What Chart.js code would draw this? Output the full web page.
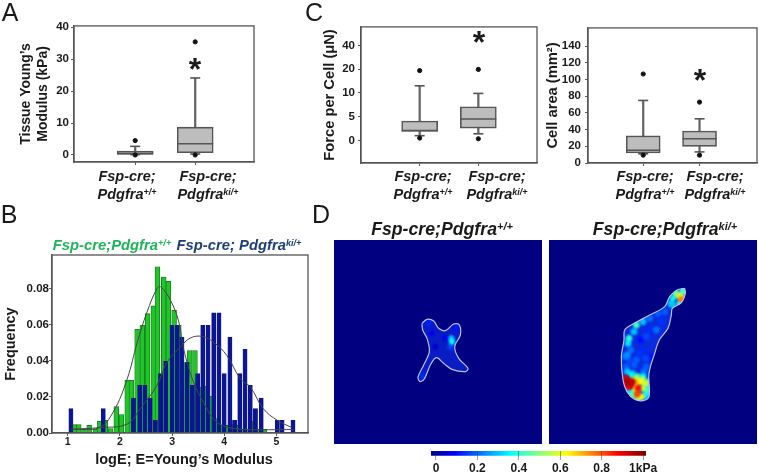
<!DOCTYPE html>
<html>
<head>
<meta charset="utf-8">
<title>Fsp-cre; Pdgfra</title>
<script src="https://cdn.jsdelivr.net/npm/chart.js@4/dist/chart.umd.min.js"></script>
<style>
  html, body { margin: 0; background: #fff; }
  #page { position: relative; width: 759px; height: 472px; overflow: hidden; font-family: "Liberation Sans", Arial, sans-serif; color: #1a1a1a; }
  canvas { position: absolute; }
  .note { position: absolute; transform: translate(-50%, -50%); white-space: nowrap; line-height: 1; }
  sup { font-size: .62em; position: relative; top: -.42em; vertical-align: baseline; line-height: 0; }
</style>
</head>
<body>
<div id="page"></div>
<script>
// panel A, tissue modulus (kPa)
const groupPos = [1, 2]
const tissueLow = [0.1, 0.3]
const tissueQ1 = [0.2, 0.7]
const tissueMed = [0.5, 3.5]
const tissueQ3 = [1.2, 8.7]
const tissueHigh = [2.7, 24.1]
const tissueOutX = [1, 1, 2, 2]
const tissueOutY = [4.5, 0, 35.4, 0]
const tissueTicks = [0, 10, 20, 30, 40]

// panel C, force per cell (uN), the axis is spaced by tick not by value
const forceLow = [1.0, 1.4]
const forceQ1 = [1.9, 2.6]
const forceMed = [2.1, 4.5]
const forceQ3 = [4.1, 7.1]
const forceHigh = [13, 9.9]
const forceOutX = [1, 1, 2, 2]
const forceOutY = [19.4, 0.5, 19.9, 0.35]
const forceTicks = [0, 5, 10, 20, 40]

// panel C, cell area
const areaLow = [11, 13.3]
const areaQ1 = [12, 20]
const areaMed = [15.3, 29]
const areaQ3 = [32.5, 38.4]
const areaHigh = [75, 53]
const areaOutX = [1, 1, 2, 2]
const areaOutY = [106.7, 9.4, 73, 9.4]
const areaTicks = [0, 20, 40, 60, 80, 100, 120, 140]

// panel B, histograms
const greenX = [1.12, 1.21, 1.31, 1.41, 1.53, 1.61, 1.72, 1.82, 1.93, 2.03, 2.14, 2.22, 2.33, 2.43, 2.53, 2.64, 2.72, 2.84, 2.93, 3.04, 3.13, 3.24, 3.34, 3.44, 3.54, 3.65, 3.74, 3.85, 3.95, 4.04, 4.15, 4.25, 4.35, 4.45, 4.55, 4.65, 4.77]
const greenY = [0.0046, 0.0046, 0.0024, 0.0042, 0.002, 0.0065, 0.007, 0.0024, 0.0146, 0.0102, 0.0292, 0.0292, 0.0574, 0.0597, 0.0661, 0.0704, 0.0921, 0.0864, 0.084, 0.068, 0.0597, 0.039, 0.0456, 0.0456, 0.0255, 0.026, 0.0205, 0.008, 0.0042, 0.0042, 0.0046, 0.0042, 0.002, 0.002, 0.0065, 0.002, 0.002]
const blueX = [1.06, 1.68, 2.26, 2.38, 2.48, 2.58, 2.68, 2.78, 2.88, 3.0, 3.1, 3.19, 3.29, 3.39, 3.49, 3.59, 3.69, 3.8, 3.9, 4.0, 4.11, 4.2, 4.3, 4.4, 4.5, 4.6, 4.71, 5.02, 5.11, 5.32]
const blueY = [0.0135, 0.0135, 0.0194, 0.0264, 0.0264, 0.0194, 0.007, 0.0329, 0.0397, 0.0597, 0.0597, 0.0532, 0.0393, 0.0264, 0.0329, 0.0597, 0.0597, 0.0665, 0.0665, 0.0329, 0.0532, 0.007, 0.0329, 0.0464, 0.0264, 0.0135, 0.0194, 0.007, 0.007, 0.007]
const greenCurveX = [1.07, 1.6, 1.87, 2.14, 2.33, 2.52, 2.71, 2.78, 2.97, 3.13, 3.22, 3.41, 3.6, 3.79, 3.98, 4.37, 5.33]
const greenCurveY = [0.002, 0.003, 0.0116, 0.03, 0.05, 0.067, 0.08, 0.081, 0.0735, 0.0615, 0.0467, 0.0283, 0.017, 0.008, 0.004, 0.002, 0.002]
const blueCurveX = [1.07, 1.62, 2.14, 2.39, 2.71, 2.9, 3.16, 3.35, 3.58, 3.79, 4.05, 4.31, 4.5, 4.75, 5.02, 5.3]
const blueCurveY = [0.002, 0.003, 0.005, 0.0135, 0.0264, 0.039, 0.0476, 0.0526, 0.0535, 0.0504, 0.043, 0.03, 0.0255, 0.0135, 0.007, 0.003]
const histXTicks = [1, 2, 3, 4, 5]
const histYTicks = [0, 0.02, 0.04, 0.06, 0.08]

// panel D, traction maps in image units
const ctrlCellX = [264, 279, 299, 314, 334, 359, 376, 379, 362, 374, 402, 394, 354, 329, 307, 289, 272, 259, 252, 269, 286, 279, 266, 264]
const ctrlCellY = [250, 238, 243, 265, 272, 252, 255, 285, 320, 355, 385, 395, 388, 370, 353, 375, 415, 425, 412, 375, 335, 295, 270, 250]
const ctrlSpotX = [304, 334, 294, 364, 284, 266, 349, 352, 354]
const ctrlSpotY = [320, 295, 280, 265, 250, 408, 320, 295, 305]
const ctrlSpotV = [0.06, 0.09, 0.1, 0.13, 0.14, 0.15, 0.18, 0.3, 0.36]
const mutCellX = [407, 409, 397, 370, 367, 357, 332, 317, 300, 300, 282, 257, 234, 222, 217, 225, 227, 252, 302, 347, 362, 384, 407]
const mutCellY = [145, 160, 188, 205, 225, 265, 298, 340, 400, 470, 482, 478, 455, 420, 350, 300, 270, 252, 225, 200, 170, 150, 145]
const mutSpotX = [384, 307, 282, 292, 327, 347, 302, 322, 262, 232, 292, 282, 227, 252, 372, 237, 240, 262, 247, 282, 242, 292, 297, 402, 372, 392, 387, 252, 257, 267, 282, 277, 287, 257, 272, 265, 397, 267, 225, 245, 228, 237, 232, 250, 240, 260, 300, 280, 265, 225, 240, 296, 292, 262, 250, 380, 395, 405, 365, 255, 245, 235, 275, 300, 335, 270, 240, 290, 255, 285, 300, 235]
const mutSpotY = [180, 350, 330, 290, 220, 215, 235, 270, 360, 380, 380, 245, 350, 400, 195, 310, 295, 255, 405, 410, 455, 460, 435, 155, 175, 190, 165, 465, 440, 475, 445, 470, 430, 420, 425, 462, 178, 445, 435, 435, 420, 427, 415, 425, 440, 430, 425, 420, 410, 450, 470, 450, 470, 450, 452, 160, 170, 150, 190, 275, 330, 345, 300, 270, 245, 340, 360, 355, 375, 395, 385, 395]
const mutSpotV = [0.08, 0.13, 0.15, 0.18, 0.2, 0.2, 0.22, 0.22, 0.2, 0.2, 0.2, 0.3, 0.22, 0.25, 0.3, 0.33, 0.4, 0.42, 0.35, 0.35, 0.35, 0.35, 0.4, 0.42, 0.35, 0.4, 0.5, 0.45, 0.5, 0.55, 0.55, 0.6, 0.58, 0.6, 0.62, 0.8, 0.75, 0.85, 0.85, 0.9, 0.92, 0.95, 0.9, 0.92, 0.88, 0.7, 0.45, 0.55, 0.45, 0.3, 0.25, 0.4, 0.3, 0.6, 0.35, 0.45, 0.6, 0.4, 0.3, 0.3, 0.22, 0.25, 0.12, 0.15, 0.16, 0.16, 0.18, 0.18, 0.2, 0.22, 0.15, 0.3]

// colour bar
const barTicks = [0, 0.2, 0.4, 0.6, 0.8, 1]
const barLabels = ['0', '0.2', '0.4', '0.6', '0.8', '1kPa']

const FONT = '"Liberation Sans", Arial, sans-serif'
const AXIS = '#555'
Chart.defaults.font.family = FONT
Chart.defaults.color = '#1a1a1a'
Chart.defaults.animation = false
Chart.defaults.responsive = false
Chart.defaults.devicePixelRatio = 1
Chart.defaults.layout.autoPadding = false
Chart.defaults.plugins.legend.display = false
Chart.defaults.plugins.tooltip.enabled = false

const page = document.getElementById('page')

function note(html, x, y, css) {
  const d = document.createElement('div')
  d.className = 'note'
  d.innerHTML = html
  d.style.left = x + 'px'
  d.style.top = y + 'px'
  d.style.cssText += css
  page.appendChild(d)
}

// canvas sized so the chart area lands on box [l, t, r, b]
function place(l, t, r, b, padL, padB, pad) {
  const c = document.createElement('canvas')
  c.width = padL + (r - l) + pad
  c.height = pad + (b - t) + padB
  c.style.left = (l - padL) + 'px'
  c.style.top = (t - pad) + 'px'
  page.appendChild(c)
  return c
}

const framePlugin = {
  id: 'frame',
  afterDatasetsDraw(chart) {
    const { ctx, chartArea: a } = chart
    ctx.save()
    ctx.strokeStyle = AXIS
    ctx.lineWidth = 1.3
    ctx.strokeRect(a.left, a.top, a.right - a.left, a.bottom - a.top)
    ctx.restore()
  }
}

function tickAxis(values, extra) {
  return Object.assign({
    type: 'linear',
    offset: false,
    afterBuildTicks: s => { s.ticks = values.map(v => ({ value: v })) },
    grid: { drawOnChartArea: false, offset: false, tickLength: 3, tickColor: AXIS, color: AXIS },
    border: { color: AXIS, width: 1.3 }
  }, extra)
}

function zip(xs, ys) {
  return xs.map((x, i) => ({ x: x, y: ys[i] }))
}

function boxChart(box, padL, s) {
  const canvas = place(box[0], box[1], box[2], box[3], padL, 12, 8)
  const map = s.map || (v => v)
  const pts = vals => vals.map((v, i) => ({ x: groupPos[i], y: map(v) }))
  const marks = (data, radius) => ({
    type: 'line', showLine: false, data: data, pointStyle: 'line', pointRadius: radius,
    pointBorderColor: '#555', pointBorderWidth: 1.6
  })
  new Chart(canvas, {
    type: 'bar',
    data: {
      datasets: [
        { type: 'line', showLine: false, data: s.outX.map((x, i) => ({ x: x, y: map(s.outY[i]) })), pointRadius: 2.1, pointBackgroundColor: '#111', pointBorderColor: '#111' },
        marks(pts(s.med), s.width / 2),
        { grouped: false, data: groupPos.map((x, i) => ({ x: x, y: [map(s.q1[i]), map(s.q3[i])] })), barThickness: s.width, backgroundColor: '#bdbdbd', borderColor: '#555', borderWidth: 1.6, borderSkipped: false },
        marks(pts(s.high), 5),
        marks(pts(s.low), 5),
        { grouped: false, data: groupPos.map((x, i) => ({ x: x, y: [map(s.low[i]), map(s.high[i])] })), barThickness: 1.6, backgroundColor: '#666' }
      ]
    },
    options: {
      layout: { padding: { top: 8, right: 8 } },
      scales: {
        x: tickAxis(groupPos, { min: s.xMin, max: s.xMin + 3, ticks: { display: false }, afterFit: a => { a.height = 12 } }),
        y: tickAxis(s.ticks.map(map), {
          min: s.yMin, max: s.yMax,
          ticks: { padding: s.tickGap, font: { size: 11.5, weight: 'bold' }, autoSkip: false, callback: s.label || (v => v) },
          title: { display: true, text: s.title, padding: 0, font: { size: s.titleSize, weight: 'bold', lineHeight: 17 / s.titleSize } },
          afterFit: a => { a.width = padL }
        })
      }
    },
    plugins: [framePlugin]
  })
}

boxChart([74, 25, 254, 162], 56, {
  low: tissueLow, q1: tissueQ1, med: tissueMed, q3: tissueQ3, high: tissueHigh, outX: tissueOutX, outY: tissueOutY,
  ticks: tissueTicks, xMin: -0.02, yMin: -2.2, yMax: 40.4, width: 36, tickGap: 2, titleSize: 14,
  title: ['Tissue Young\u2019s', 'Modulus (kPa)']
})

// piecewise position of a force value between its evenly spaced ticks
function forcePos(v) {
  for (let i = 1; i < forceTicks.length; i++) {
    if (v <= forceTicks[i]) return i - 1 + (v - forceTicks[i - 1]) / (forceTicks[i] - forceTicks[i - 1])
  }
  return forceTicks.length - 1
}

boxChart([361, 25, 537, 163], 40, {
  low: forceLow, q1: forceQ1, med: forceMed, q3: forceQ3, high: forceHigh, outX: forceOutX, outY: forceOutY,
  ticks: forceTicks, map: forcePos, label: v => forceTicks[v], xMin: 0, yMin: -0.95, yMax: 4.78, width: 36, tickGap: 3, titleSize: 14.7,
  title: 'Force per Cell (\u03bcN)'
})

boxChart([588, 25, 757, 163], 44, {
  low: areaLow, q1: areaQ1, med: areaMed, q3: areaQ3, high: areaHigh, outX: areaOutX, outY: areaOutY,
  ticks: areaTicks, xMin: 0.02, yMin: 0, yMax: 162, width: 34, tickGap: 4, titleSize: 14.7,
  title: 'Cell area (mm\u00b2)'
})

// panel B
const histCanvas = place(52, 255, 308, 433, 50, 35, 8)
new Chart(histCanvas, {
  type: 'bar',
  data: {
    datasets: [
      { type: 'line', data: zip(greenCurveX, greenCurveY), borderColor: '#444', borderWidth: 1, pointRadius: 0, tension: 0.4 },
      { type: 'line', data: zip(blueCurveX, blueCurveY), borderColor: '#444', borderWidth: 1, pointRadius: 0, tension: 0.4 },
      { grouped: false, data: zip(blueX, blueY), barThickness: 4.2, backgroundColor: '#0a1496', borderColor: '#101a70', borderWidth: 0.6 },
      { grouped: false, data: zip(greenX, greenY), barThickness: 4.8, backgroundColor: '#22c42a', borderColor: '#0f7a1a', borderWidth: 0.8 }
    ]
  },
  options: {
    layout: { padding: { top: 8, right: 8 } },
    scales: {
      x: tickAxis(histXTicks, {
        min: 0.697, max: 5.608,
        ticks: { padding: 0, font: { size: 10.5, weight: 'bold' }, autoSkip: false, maxRotation: 0 },
        title: { display: true, text: '\u00a0\u00a0logE; E=Young\u2019s Modulus', padding: 0, font: { size: 14.5, weight: 'bold', lineHeight: 17 / 14.5 } },
        afterFit: a => { a.height = 35 }
      }),
      y: tickAxis(histYTicks, {
        min: 0, max: 0.0986,
        ticks: { padding: 0, font: { size: 11.5, weight: 'bold' }, autoSkip: false, callback: v => v.toFixed(2) },
        title: { display: true, text: 'Frequency', padding: 0, font: { size: 14.5, weight: 'bold', lineHeight: 17 / 14.5 } },
        afterFit: a => { a.width = 50 }
      })
    }
  },
  plugins: [framePlugin]
})

// jet style colour for a value in kPa
function jet(v) {
  const stops = [[0, 0, 0, 143], [0.11, 0, 0, 255], [0.36, 0, 255, 255], [0.63, 255, 255, 0], [0.86, 255, 0, 0], [1, 128, 0, 0]]
  for (let i = 1; i < stops.length; i++) {
    if (v <= stops[i][0]) {
      const a = stops[i - 1], b = stops[i], t = (v - a[0]) / (b[0] - a[0])
      return 'rgb(' + [1, 2, 3].map(k => Math.round(a[k] + (b[k] - a[k]) * t)).join(',') + ')'
    }
  }
  return 'rgb(128,0,0)'
}

// background, filled cell and clipped soft spots
const cellPlugin = {
  id: 'cell',
  beforeDraw(chart) {
    const { ctx, chartArea: a } = chart
    ctx.fillStyle = '#000080'
    ctx.fillRect(a.left, a.top, a.right - a.left, a.bottom - a.top)
  },
  beforeDatasetDraw(chart, args) {
    if (args.index !== 1) return
    const ctx = chart.ctx
    ctx.save()
    ctx.beginPath()
    chart.getDatasetMeta(0).dataset.path(ctx)
    ctx.closePath()
    ctx.fillStyle = chart.options.plugins.cell.base
    ctx.fill()
    ctx.clip()
    ctx.filter = 'blur(1.3px)'
  },
  afterDatasetDraw(chart, args) {
    if (args.index === 1) chart.ctx.restore()
  }
}

function mapChart(l, cellX, cellY, spotX, spotY, spotV, base, radius) {
  const canvas = place(l, 240, l + 208, 444, 0, 0, 0)
  const order = spotV.map((v, i) => i).sort((a, b) => spotV[a] - spotV[b])
  new Chart(canvas, {
    type: 'scatter',
    data: {
      datasets: [
        { data: zip(cellX, cellY), showLine: true, tension: 0.35, pointRadius: 0, borderColor: '#b9c2ee', borderWidth: 1.2 },
        { data: order.map(i => ({ x: spotX[i], y: spotY[i], v: spotV[i] })), pointRadius: radius, pointBorderWidth: 0, pointBackgroundColor: c => jet(c.raw ? c.raw.v : 0) }
      ]
    },
    options: {
      layout: { padding: 0 },
      plugins: { cell: { base: base } },
      scales: {
        x: { type: 'linear', display: false, min: 0, max: 624 },
        y: { type: 'linear', display: false, min: 0, max: 612, reverse: true }
      }
    },
    plugins: [cellPlugin]
  })
}

mapChart(334, ctrlCellX, ctrlCellY, ctrlSpotX, ctrlSpotY, ctrlSpotV, '#0a1cc4', 3)
mapChart(549, mutCellX, mutCellY, mutSpotX, mutSpotY, mutSpotV, '#0a2cdc', 3.4)

// colour bar, the canvas is wider than the bar so the last label has room
const barCanvas = place(431, 451, 646, 460, 20, 13, 20)
const barMin = -0.024
const barMax = 1.014
new Chart(barCanvas, {
  type: 'bar',
  data: {
    labels: [''],
    datasets: [{
      data: [[barMin, barMax]],
      barPercentage: 1,
      categoryPercentage: 1,
      backgroundColor: c => {
        const a = c.chart.chartArea
        if (!a) return '#000080'
        const g = c.chart.ctx.createLinearGradient(a.left, 0, a.right, 0)
        g.addColorStop(0, '#00008f')
        g.addColorStop(0.11, '#0000ff')
        g.addColorStop(0.37, '#00ffff')
        g.addColorStop(0.63, '#ffff00')
        g.addColorStop(0.87, '#ff0000')
        g.addColorStop(1, '#800000')
        return g
      }
    }]
  },
  options: {
    indexAxis: 'y',
    layout: { padding: { top: 20, left: 20, right: 20 } },
    scales: {
      x: {
        type: 'linear', min: barMin, max: barMax, offset: false,
        afterBuildTicks: s => { s.ticks = barTicks.map(v => ({ value: v })) },
        grid: { z: 1, offset: false, color: 'rgba(50,40,40,0.45)', tickLength: 0 },
        border: { display: false },
        ticks: { padding: 1, font: { size: 12, weight: 'bold' }, autoSkip: false, maxRotation: 0, callback: v => barLabels[barTicks.indexOf(v)] },
        afterFit: a => { a.height = 13 }
      },
      y: { display: false, offset: false }
    }
  }
})

// text that needs superscripts, or sits on the figure rather than on an axis
const ctrlHtml = 'Pdgfra<sup>+/+</sup>'
const mutHtml = 'Pdgfra<sup>ki/+</sup>'
const labelCss = 'font-size:14.5px;font-weight:bold;font-style:italic;'
;[[127, 208], [423, 497], [645, 715]].forEach(p => {
  note('Fsp-cre;', p[0], 176, labelCss)
  note(ctrlHtml, p[0], 194, labelCss)
  note('Fsp-cre;', p[1], 176, labelCss)
  note(mutHtml, p[1], 194, labelCss)
})
const starCss = 'font-size:32px;font-weight:bold;'
note('*', 195, 69, starCss)
note('*', 479, 42, starCss)
note('*', 700, 80, starCss)
note('A', 10, 12, 'font-size:25px;')
note('B', 9, 214, 'font-size:25px;')
note('C', 314, 12, 'font-size:25px;')
note('D', 321, 214, 'font-size:25px;')
note('Fsp-cre;' + ctrlHtml, 112, 245, 'font-size:14.8px;font-weight:bold;font-style:italic;color:#1fb45a;')
note('Fsp-cre; ' + mutHtml, 239, 245, 'font-size:14.8px;font-weight:bold;font-style:italic;color:#1d3f77;')
note('Fsp-cre;' + ctrlHtml, 442, 230, 'font-size:17.7px;font-weight:bold;font-style:italic;')
note('Fsp-cre;' + mutHtml, 665, 230, 'font-size:17.7px;font-weight:bold;font-style:italic;')
</script>
</body>
</html>
